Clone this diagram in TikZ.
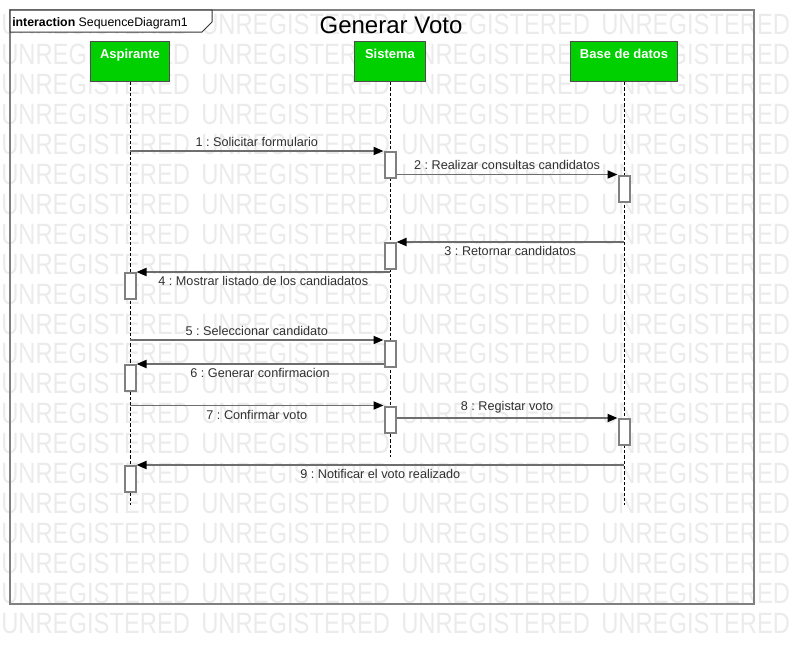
\documentclass[tikz,border=0pt]{standalone}
\usepackage{fontspec}
\setmainfont{Liberation Sans}
\usepackage{xcolor}
\usepackage{graphicx}
\usepackage{tikz}
\usetikzlibrary{arrows.meta}
\definecolor{headgreen}{HTML}{00CF00}
\definecolor{framegray}{HTML}{808080}
\definecolor{msggray}{HTML}{6E6E6E}
\definecolor{markgray}{HTML}{EBEBEB}
\definecolor{msgtext}{HTML}{303030}
\frenchspacing

\begin{document}
\begin{tikzpicture}[x=0.75pt,y=-0.75pt,
    wmark/.style={anchor=base west,inner sep=0pt,text=markgray,font=\fontsize{22}{22}\selectfont},
    head/.style={draw=black!70,line width=0.75pt,fill=headgreen,anchor=north,minimum width=#1,inner xsep=2pt,inner ysep=0pt,text height=12.75pt,text depth=17.25pt,text=white,font=\fontsize{9.75}{12}\selectfont\bfseries},
    lifeline/.style={black,line width=0.6pt,dash pattern=on 2.5pt off 1.5pt},
    act/.style={draw=framegray,line width=1.5pt,fill=white,minimum width=8.25pt,minimum height=19.5pt,inner sep=0pt},
    msg/.style={draw=msggray,line width=1.4pt,-{Triangle[length=7.5pt,width=6pt,black]}},
    lbl/.style={text=msgtext,inner sep=2.75pt,font=\fontsize{9.5}{11}\selectfont}]

             \useasboundingbox (0,0) rectangle (794,644);

             \foreach \r in {0,...,20}
               \foreach \c in {0,...,3}
                 \node[wmark] (wm-\r-\c) at (\c*200+1, 34.5+\r*29.95) {\scalebox{0.81}[1]{UNREGISTERED}};

             \draw[framegray,line width=1.5pt] (10,10) rectangle (754,604);
             \fill[white] (10,10) -- (212,10) -- (212,22) -- (202,32) -- (10,32) -- cycle;
             \draw[black!80,line width=0.75pt] (10,10) -- (212,10) -- (212,22) -- (202,32) -- (10,32) -- cycle;
             \node[anchor=base west,inner sep=0pt,font=\fontsize{9.25}{11}\selectfont] (framelbl) at (12,26) {\textbf{interaction} SequenceDiagram1};
             \node[anchor=base,inner sep=0pt,font=\fontsize{18}{20}\selectfont] (title) at (391,33) {Generar Voto};

             \node[head=59.25pt] (asp) at (130,41) {Aspirante};
             \node[head=53.25pt] (sis) at (390,41) {Sistema};
             \node[head=80.25pt] (bd) at (624,41) {Base de datos};

             \coordinate (asp-end) at (130,505);
             \coordinate (sis-end) at (390,457);
             \coordinate (bd-end) at (624,505);
             \draw[lifeline] (asp.south) -- (asp-end);
             \draw[lifeline] (sis.south) -- (sis-end);
             \draw[lifeline] (bd.south) -- (bd-end);

             \node[act] (s1) at (390,165) {};
             \node[act] (b1) at (624,188.5) {};
             \node[act] (s2) at (390,256) {};
             \node[act] (a1) at (130,286) {};
             \node[act] (s3) at (390,354) {};
             \node[act] (a2) at (130,378) {};
             \node[act] (s4) at (390,419.5) {};
             \node[act] (b2) at (624,432) {};
             \node[act] (a3) at (130,479) {};

             \draw[msg] (s1.north west -| asp) -- node[lbl,above] (m1) {1 : Solicitar formulario} (s1.north west);
             \draw[msg] (b1.north west -| s1.east) -- node[lbl,above] (m2) {2 : Realizar consultas candidatos} (b1.north west);
             \draw[msg] (s2.north east -| bd) -- node[lbl,below] (m3) {3 : Retornar candidatos} (s2.north east);
             \draw[msg] (a1.north east -| sis) -- node[lbl,below] (m4) {4 : Mostrar listado de los candiadatos} (a1.north east);
             \draw[msg] (s3.north west -| asp) -- node[lbl,above] (m5) {5 : Seleccionar candidato} (s3.north west);
             \draw[msg] (a2.north east -| s3.west) -- node[lbl,below] (m6) {6 : Generar confirmacion} (a2.north east);
             \draw[msg] (s4.north west -| asp) -- node[lbl,below] (m7) {7 : Confirmar voto} (s4.north west);
             \draw[msg] (b2.north west -| s4.east) -- node[lbl,above] (m8) {8 : Registar voto} (b2.north west);
             \draw[msg] (a3.north east -| bd) -- node[lbl,below] (m9) {9 : Notificar el voto realizado} (a3.north east);

             \end{tikzpicture}
\end{document}
